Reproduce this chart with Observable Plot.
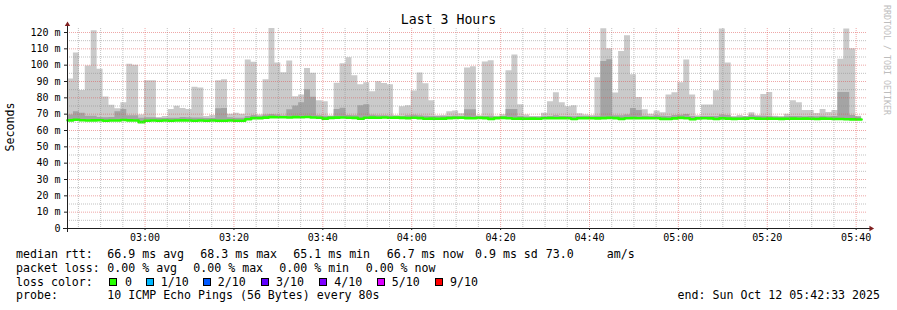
<!DOCTYPE html>
<html>
<head>
<meta charset="utf-8">
<script src="https://cdn.jsdelivr.net/npm/d3@7"></script>
<script src="https://cdn.jsdelivr.net/npm/@observablehq/plot@0.6"></script>
<style>
html, body { margin: 0; padding: 0; background: #fff; }
#wrap { position: relative; width: 897px; height: 310px; overflow: hidden; background: #fff;
        font-family: "DejaVu Sans Mono", monospace; color: #000; }
#chart { position: absolute; left: 0; top: 0; }
#title { position: absolute; left: 0; top: 12px; width: 897px; text-align: center;
         font-size: 13.2px; line-height: 16px; white-space: pre; }
#ylab { position: absolute; left: 10.3px; top: 127px; font-size: 11.6px; line-height: 14px;
        white-space: pre; transform: translate(-50%, -50%) rotate(-90deg); }
#wm { position: absolute; left: 891.5px; top: 5px; font-size: 8.3px; line-height: 10px;
      white-space: pre; color: #bdbdbd; transform-origin: 0 0; transform: rotate(90deg); }
.lg { position: absolute; font-size: 11.6px; line-height: 14px; white-space: pre; }
.sw { position: absolute; width: 8px; height: 8px; box-sizing: border-box; border: 1px solid #000; }
</style>
</head>
<body>
<div id="wrap">
  <div id="chart"></div>
  <div id="title"></div>
  <div id="ylab"></div>
  <div id="wm"></div>
</div>
<script>
// ---------- data ----------
const titleText = "Last 3 Hours";
const yLabel = "Seconds";
const watermark = "RRDTOOL / TOBI OETIKER";
const startTime = "2025-10-12T02:42:33";
const endTime = "2025-10-12T05:42:33";
const stepSeconds = 80;

// top of the smoke (slowest ping), ms
const hi = [
  91.5,107.5,84.5,99.5,121,97.5,80.5,75.5,73.3,77,
  100.5,100,69.5,90.5,90.5,68,68.5,72.8,74.8,73.5,
  72.8,86.5,86,68.5,69.2,90.5,91,70,70.5,70,
  103.2,101.8,69.5,91,122.5,101.3,95.3,102.5,80.6,81.8,
  98,95,78.2,77.6,68.8,89,100.8,104.5,93.5,88,
  89.2,83.8,89.8,88.8,88,69.2,74.6,75.2,84.2,95.2,
  88.6,78.2,69,69.2,71.5,72,70.2,98.3,99,69,
  102,102.7,68.8,69.6,96.6,106.3,75.8,69.5,68.4,68.4,
  70.6,77.6,83.1,77,74.5,75.2,70.2,69.5,69.2,92.3,
  122.3,110,83,108.3,118,94.2,80.2,72.7,70,72,
  70.8,81.8,83.1,89.2,103.2,81.8,69,75.6,75.6,84.3,
  122.2,101.4,68.3,69.2,68.6,70.8,69.2,82,83.2,68.8,
  68.3,70,78.2,77,72.2,72.2,70.4,72.8,71,72.2,
  103.7,122.2,110,68.8
];
// top of the inner (darker) smoke band, ms
const inner = [
  69.5,71.5,70.5,68.8,68.8,68,67.8,68,71.5,72.8,
  69,69,67.5,67.8,67.8,67.3,67.3,67.5,67.5,68,
  67.8,67.6,67.6,67.3,67.3,73.3,73.5,67.8,67.5,67.5,
  68.5,69.2,68.8,69.5,69.8,69.5,68.9,72.7,75,77,
  85,80.3,69,68.8,68.8,72.9,73.6,69.2,69,75.2,
  75.8,69.3,69,69,68.9,68.5,68.6,69,69.3,69,
  68.8,68.6,68.5,68.5,68.6,68.8,68.6,72.7,72.7,68.4,
  68.6,68.8,68.3,68.6,72.8,72.8,68.6,68.3,68.3,68.3,
  68.4,68.6,69,68.6,68.6,68.4,68.5,68.4,68.4,68.8,
  102.2,103.3,69,69,69.5,73.5,72.2,68.8,68.6,69,
  68.8,68.6,69.2,69.3,69.8,68.6,68.3,68.5,68.5,68.6,
  69.5,69.2,68.2,68.2,68.4,69.3,68.6,68.8,68.6,68.3,
  68.2,68.4,68.6,68.6,68.4,68.6,68.4,68.8,68.4,68.6,
  83.2,83.3,69.2,68.3
];
// median rtt, ms
const median = [
  66.2,66.6,66.3,66.1,66.2,66.3,66.0,66.1,66.1,66.4,
  66.2,66.1,65.1,66.0,66.1,66.0,66.1,66.0,66.1,66.2,
  66.1,66.0,66.1,66.0,66.1,66.0,66.0,66.1,66.0,66.0,
  66.9,67.6,67.6,67.9,68.2,68.1,68.1,68.0,68.2,68.1,
  68.3,68.0,67.8,67.3,67.7,67.9,68.0,67.8,67.7,67.2,
  67.8,67.9,67.8,68.0,67.8,67.9,67.7,67.6,67.8,67.6,
  67.2,67.3,67.2,67.3,67.6,67.7,67.8,67.6,67.5,67.7,
  67.6,67.1,67.6,67.7,67.5,67.2,67.3,67.2,67.3,67.2,
  67.5,67.6,67.5,67.6,67.5,67.0,67.5,67.6,67.5,67.4,
  67.6,67.7,67.6,67.1,67.5,67.6,67.5,67.6,67.5,67.5,
  67.1,67.0,67.4,67.7,67.5,66.9,67.4,67.5,67.4,67.0,
  67.4,67.3,67.1,67.2,67.3,67.5,67.3,67.2,67.3,67.2,
  67.1,67.2,67.3,67.2,67.3,67.2,67.0,67.3,67.2,67.0,
  67.0,66.9,66.8,66.7
];

const yTickValues = [0,10,20,30,40,50,60,70,80,90,100,110,120];
const yTickLabels = ["0","10 m","20 m","30 m","40 m","50 m","60 m","70 m","80 m","90 m","100 m","110 m","120 m"];
const xTickLabels = ["03:00","03:20","03:40","04:00","04:20","04:40","05:00","05:20","05:40"];

const rttLabel = "median rtt:";
const rttItems = ["66.9 ms avg","68.3 ms max","65.1 ms min","66.7 ms now","0.9 ms sd","73.0","am/s"];
const lossLabel = "packet loss:";
const lossItems = ["0.00 % avg","0.00 % max","0.00 % min","0.00 % now"];
const colorLabel = "loss color:";
const lossColorNames = ["0","1/10","2/10","3/10","4/10","5/10","9/10"];
const lossColors = ["#26ff00","#00b8ff","#0059ff","#5e00ff","#7e00ff","#dd00ff","#ff0000"];
const probeLabel = "probe:";
const probeText = "10 ICMP Echo Pings (56 Bytes) every 80s";
const endText = "end: Sun Oct 12 05:42:33 2025";

// ---------- layout (positions only) ----------
const rttX = [107.3, 200.3, 293.3, 386.7, 475, 545.7, 606.7];
const lossX = [107.3, 193.3, 279.3, 365.7];
const swatchX = [109, 145.7, 202.7, 261, 319.3, 376.7, 435];
const swatchTextX = [125, 160.7, 217.7, 276, 334.3, 391.7, 450];
const rowTop = [247.3, 261, 274.7, 288.4];

// ---------- build ----------
const start = new Date(startTime);
const end = new Date(endTime);
const stepMs = stepSeconds * 1000;
const rows = hi.map((h, i) => ({t: new Date(+start + i * stepMs), hi: h, inner: inner[i], med: median[i]}));
rows.push({...rows[rows.length - 1], t: new Date(+start + hi.length * stepMs)});

const day = startTime.slice(0, 10);
const xTicks = xTickLabels.map(s => new Date(day + "T" + s + ":00"));
const fiveMin = d3.timeMinute.every(5).range(start, end);
const minorX = fiveMin.filter(d => d.getMinutes() % 20 !== 0);
const majorX = fiveMin.filter(d => d.getMinutes() % 20 === 0);
const minorY = d3.range(5, 121, 10);
const majorY = d3.range(10, 121, 10);
const yTop = 122.45;

const gridMinor = "rgba(143,143,143,0.55)";
const gridMajor = "rgba(222,79,79,0.5)";
const axisColor = "#1f1f1f";
const arrowColor = "#801f1f";

const plot = Plot.plot({
  width: 897,
  height: 245,
  marginLeft: 67,
  marginRight: 30,
  marginTop: 28,
  marginBottom: 17,
  x: {type: "time", domain: [start, end]},
  y: {domain: [0, yTop]},
  style: {fontFamily: "'DejaVu Sans Mono', monospace", fontSize: "10px", background: "transparent", color: "#000", overflow: "visible"},
  marks: [
    Plot.areaY(rows, {x: "t", y1: "med", y2: "hi", curve: "step-after", fill: "#cacaca", clip: true}),
    Plot.areaY(rows, {x: "t", y1: "med", y2: "inner", curve: "step-after", fill: "#a4a4a4", clip: true}),
    Plot.line(rows, {x: "t", y: "med", curve: "step-after", stroke: "#26ff00", strokeWidth: 2.6}),
    Plot.ruleY(minorY, {stroke: gridMinor, strokeDasharray: "1,1"}),
    Plot.ruleX(minorX, {stroke: gridMinor, strokeDasharray: "1,1"}),
    Plot.ruleY(majorY, {stroke: gridMajor, strokeDasharray: "1,1"}),
    Plot.ruleX(majorX, {stroke: gridMajor, strokeDasharray: "1,1"}),
    Plot.axisY({ticks: yTickValues, tickFormat: (d, i) => yTickLabels[i], tickSize: 3, tickPadding: 4, label: null, stroke: axisColor}),
    Plot.axisX({ticks: xTicks, tickFormat: (d, i) => xTickLabels[i], tickSize: 2, tickPadding: 3, label: null, stroke: axisColor}),
    Plot.ruleY([0], {stroke: axisColor, insetLeft: -4, insetRight: -4}),
    Plot.ruleX([start], {stroke: axisColor, insetTop: -4, insetBottom: -4}),
    Plot.dot([0], {x: () => start, y: () => yTop, symbol: "triangle", r: 2, fill: arrowColor, stroke: "none", dy: -4}),
    Plot.dot([0], {x: () => end, y: () => 0, symbol: "triangle", r: 2, fill: arrowColor, stroke: "none", rotate: 90, dx: 3.5})
  ]
});
document.getElementById("chart").appendChild(plot);

document.getElementById("title").textContent = titleText;
document.getElementById("ylab").textContent = yLabel;
document.getElementById("wm").textContent = watermark;

const wrap = document.getElementById("wrap");
function addText(text, x, top, right) {
  const el = document.createElement("div");
  el.className = "lg";
  el.textContent = text;
  if (right != null) el.style.right = right + "px"; else el.style.left = x + "px";
  el.style.top = top + "px";
  wrap.appendChild(el);
}
addText(rttLabel, 16, rowTop[0]);
rttItems.forEach((s, i) => addText(s, rttX[i], rowTop[0]));
addText(lossLabel, 16, rowTop[1]);
lossItems.forEach((s, i) => addText(s, lossX[i], rowTop[1]));
addText(colorLabel, 16, rowTop[2]);
lossColorNames.forEach((s, i) => {
  const sw = document.createElement("div");
  sw.className = "sw";
  sw.style.left = swatchX[i] + "px";
  sw.style.top = "278px";
  sw.style.background = lossColors[i];
  wrap.appendChild(sw);
  addText(s, swatchTextX[i], rowTop[2]);
});
addText(probeLabel, 16, rowTop[3]);
addText(probeText, 107.3, rowTop[3]);
addText(endText, null, rowTop[3], 17);
</script>
</body>
</html>
